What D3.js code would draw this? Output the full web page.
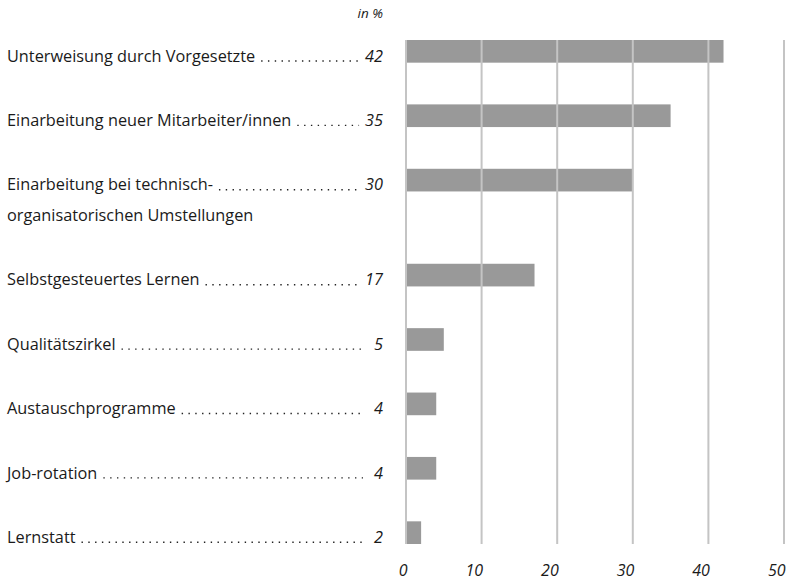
<!DOCTYPE html>
<html>
<head>
<meta charset="utf-8">
<script src="https://cdn.jsdelivr.net/npm/d3@7"></script>
<style>
  body { margin: 0; background: #fff; }
  text { font-family: "Open Sans", sans-serif; fill: #1a1a1a; }
</style>
</head>
<body>
<div id="chart"></div>
<script>
// data
const categories = [
  "Unterweisung durch Vorgesetzte",
  "Einarbeitung neuer Mitarbeiter/innen",
  "Einarbeitung bei technisch-\norganisatorischen Umstellungen",
  "Selbstgesteuertes Lernen",
  "Qualitätszirkel",
  "Austauschprogramme",
  "Job-rotation",
  "Lernstatt"
];
const values = [42, 35, 30, 17, 5, 4, 4, 2];
const tickValues = [0, 10, 20, 30, 40, 50];
const unitLabel = "in %";

const width = 793, height = 581;
const margin = { top: 40, left: 406, right: 9, bottom: 37 };
const fontSize = "16.3px";

const svg = d3.select("#chart").append("svg")
  .attr("width", width)
  .attr("height", height);

const x = d3.scaleLinear()
  .domain([0, 50])
  .range([margin.left, width - margin.right]);

// each row takes one slot, extra label lines add a bit more room
const extraPerLine = 0.475;
const barUnits = 0.352;
let pos = 0;
const rows = categories.map((c, i) => {
  const lines = c.split("\n");
  const r = { name: c, lines: lines, value: values[i], start: pos };
  pos += 1 + extraPerLine * (lines.length - 1);
  return r;
});
const lastEnd = rows[rows.length - 1].start + barUnits;

const y = d3.scaleLinear()
  .domain([0, lastEnd])
  .range([margin.top, height - margin.bottom]);

// bars
svg.append("g")
  .selectAll("rect")
  .data(rows)
  .join("rect")
  .attr("x", x(0))
  .attr("y", d => y(d.start))
  .attr("width", d => x(d.value) - x(0))
  .attr("height", d => y(d.start + barUnits) - y(d.start))
  .attr("fill", "#999999");

// vertical gridlines, on top of bars
svg.append("g")
  .selectAll("line")
  .data(tickValues)
  .join("line")
  .attr("x1", d => x(d))
  .attr("x2", d => x(d))
  .attr("y1", y(0))
  .attr("y2", y(lastEnd))
  .attr("stroke", "#c4c4c4")
  .attr("stroke-width", 2);

// x axis labels, right-aligned on their gridline
const xAxis = svg.append("g")
  .attr("transform", `translate(0, ${height - 5})`)
  .call(d3.axisBottom(x).tickValues(tickValues).tickSize(0).tickPadding(0));
xAxis.select(".domain").remove();
xAxis.selectAll("text")
  .attr("dy", 0)
  .attr("y", 0)
  .attr("x", 1)
  .attr("text-anchor", "end")
  .style("font-family", "'Open Sans', sans-serif")
  .style("font-size", "16px")
  .style("font-style", "italic")
  .style("fill", "#1a1a1a");

// unit label
svg.append("text")
  .attr("x", 383)
  .attr("y", 18)
  .attr("text-anchor", "end")
  .style("font-size", "13.5px")
  .style("font-style", "italic")
  .text(unitLabel);

// category labels with dotted leaders and values
const valueRight = 383;
const labelLeft = 7;
const lineGap = 31;

const rowG = svg.append("g")
  .selectAll("g")
  .data(rows)
  .join("g")
  .attr("transform", d => `translate(0, ${y(d.start + barUnits) - 1})`);

rowG.each(function (d) {
  const g = d3.select(this);
  const lbl = g.append("text")
    .attr("x", labelLeft)
    .style("font-size", fontSize);
  d.lines.forEach((l, i) => {
    lbl.append("tspan")
      .attr("x", labelLeft)
      .attr("y", i * lineGap)
      .text(l);
  });
  const firstLen = lbl.select("tspan").node().getComputedTextLength();

  const val = g.append("text")
    .attr("x", valueRight)
    .attr("text-anchor", "end")
    .style("font-size", fontSize)
    .style("font-style", "italic")
    .text(d.value);
  const valW = Math.max(val.node().getComputedTextLength(), 14);

  g.append("line")
    .attr("x1", labelLeft + firstLen + 6)
    .attr("x2", valueRight - valW - 6)
    .attr("y1", -0.7)
    .attr("y2", -0.7)
    .attr("stroke", "#222")
    .attr("stroke-width", 1.4)
    .attr("stroke-dasharray", "1.4 5.4");
});
</script>
</body>
</html>
